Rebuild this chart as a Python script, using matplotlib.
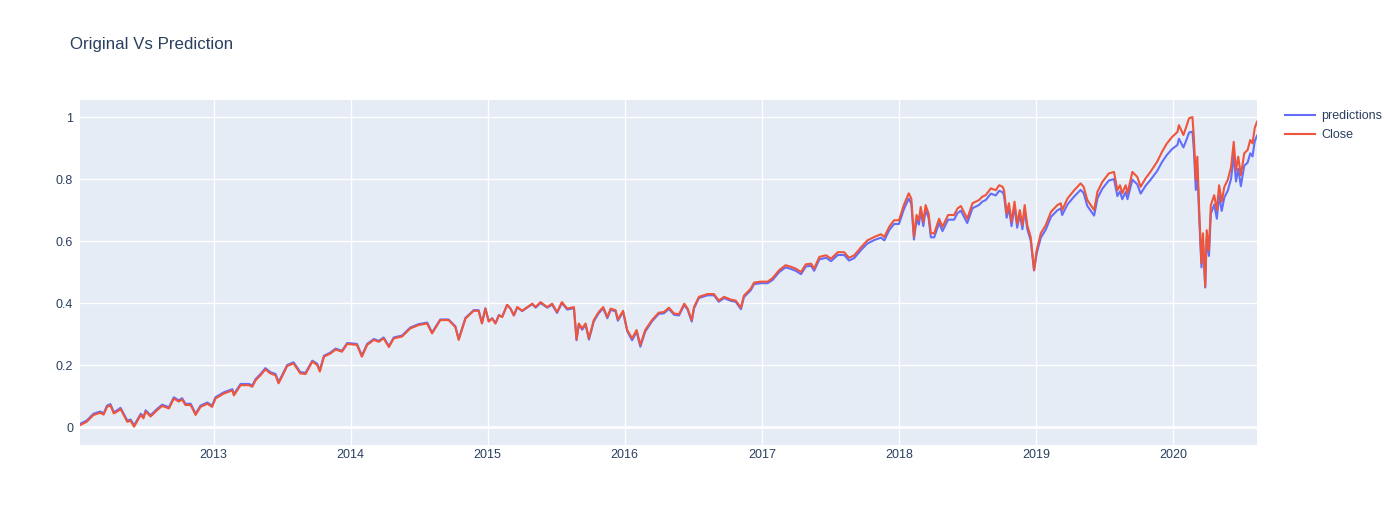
import pandas as pd
import matplotlib.pyplot as plt
import matplotlib.dates as mdates

plt.rcParams['font.family'] = ['Liberation Sans', 'DejaVu Sans']

# values (normalised close, model predictions)
dates = [
    "2012-01-11", "2012-01-29", "2012-02-16", "2012-03-05", "2012-03-14", "2012-03-23", "2012-04-01", "2012-04-10", "2012-04-19", "2012-04-28",
    "2012-05-16", "2012-05-25", "2012-06-03", "2012-06-21", "2012-06-28", "2012-07-04", "2012-07-17", "2012-08-04", "2012-08-17", "2012-09-04",
    "2012-09-17", "2012-09-30", "2012-10-09", "2012-10-18", "2012-11-01", "2012-11-14", "2012-11-27", "2012-12-15", "2012-12-28", "2013-01-06",
    "2013-01-28", "2013-02-20", "2013-02-24", "2013-03-14", "2013-04-05", "2013-04-14", "2013-04-23", "2013-05-06", "2013-05-19", "2013-06-01",
    "2013-06-15", "2013-06-23", "2013-07-02", "2013-07-16", "2013-08-02", "2013-08-20", "2013-09-03", "2013-09-21", "2013-10-04", "2013-10-11",
    "2013-10-22", "2013-11-08", "2013-11-22", "2013-12-09", "2013-12-23", "2014-01-18", "2014-01-31", "2014-02-14", "2014-03-04", "2014-03-17",
    "2014-03-30", "2014-04-13", "2014-04-26", "2014-05-18", "2014-06-09", "2014-07-01", "2014-07-24", "2014-08-06", "2014-08-28", "2014-09-19",
    "2014-10-07", "2014-10-16", "2014-11-03", "2014-11-25", "2014-12-08", "2014-12-17", "2014-12-26", "2015-01-04", "2015-01-13", "2015-01-22",
    "2015-01-31", "2015-02-09", "2015-02-22", "2015-03-03", "2015-03-12", "2015-03-21", "2015-04-03", "2015-04-17", "2015-04-30", "2015-05-09",
    "2015-05-22", "2015-06-09", "2015-06-22", "2015-07-05", "2015-07-18", "2015-08-01", "2015-08-19", "2015-08-26", "2015-09-01", "2015-09-10",
    "2015-09-19", "2015-09-28", "2015-10-11", "2015-10-24", "2015-11-05", "2015-11-16", "2015-11-25", "2015-12-08", "2015-12-14", "2015-12-28",
    "2016-01-08", "2016-01-21", "2016-02-02", "2016-02-12", "2016-02-25", "2016-03-14", "2016-04-01", "2016-04-15", "2016-04-28", "2016-05-12",
    "2016-05-25", "2016-06-08", "2016-06-17", "2016-06-28", "2016-07-04", "2016-07-17", "2016-08-09", "2016-08-26", "2016-09-08", "2016-09-22",
    "2016-10-10", "2016-10-23", "2016-11-06", "2016-11-14", "2016-12-02", "2016-12-11", "2016-12-29", "2017-01-16", "2017-01-29", "2017-02-16",
    "2017-03-05", "2017-03-19", "2017-04-01", "2017-04-15", "2017-04-28", "2017-05-12", "2017-05-20", "2017-06-03", "2017-06-21", "2017-07-04",
    "2017-07-22", "2017-08-08", "2017-08-21", "2017-09-04", "2017-09-22", "2017-10-09", "2017-10-27", "2017-11-14", "2017-11-23", "2017-12-06",
    "2017-12-19", "2018-01-01", "2018-01-14", "2018-01-27", "2018-02-03", "2018-02-10", "2018-02-17", "2018-02-23", "2018-02-28", "2018-03-07",
    "2018-03-13", "2018-03-21", "2018-03-27", "2018-04-05", "2018-04-18", "2018-04-27", "2018-05-12", "2018-05-28", "2018-06-06", "2018-06-15",
    "2018-07-02", "2018-07-16", "2018-08-02", "2018-08-11", "2018-08-20", "2018-09-03", "2018-09-16", "2018-09-25", "2018-10-04", "2018-10-08",
    "2018-10-15", "2018-10-21", "2018-10-28", "2018-11-05", "2018-11-12", "2018-11-19", "2018-11-26", "2018-12-02", "2018-12-09", "2018-12-18",
    "2018-12-27", "2019-01-03", "2019-01-14", "2019-01-27", "2019-02-10", "2019-02-27", "2019-03-08", "2019-03-12", "2019-03-26", "2019-04-13",
    "2019-04-30", "2019-05-08", "2019-05-18", "2019-06-05", "2019-06-14", "2019-06-27", "2019-07-14", "2019-07-28", "2019-08-06", "2019-08-13",
    "2019-08-19", "2019-08-28", "2019-09-02", "2019-09-15", "2019-09-28", "2019-10-07", "2019-10-20", "2019-11-02", "2019-11-20", "2019-12-03",
    "2019-12-16", "2019-12-30", "2020-01-13", "2020-01-17", "2020-01-29", "2020-02-04", "2020-02-13", "2020-02-22", "2020-02-26", "2020-03-02",
    "2020-03-06", "2020-03-11", "2020-03-17", "2020-03-21", "2020-03-27", "2020-03-31", "2020-04-06", "2020-04-11", "2020-04-20", "2020-04-27",
    "2020-05-03", "2020-05-10", "2020-05-17", "2020-05-26", "2020-06-04", "2020-06-11", "2020-06-17", "2020-06-23", "2020-06-30", "2020-07-09",
    "2020-07-18", "2020-07-25", "2020-07-31", "2020-08-06", "2020-08-12",
]

close = [
    0.006, 0.017, 0.039, 0.046, 0.040, 0.065, 0.070, 0.044, 0.050, 0.058,
    0.017, 0.020, 0.001, 0.039, 0.028, 0.050, 0.034, 0.055, 0.068, 0.060,
    0.092, 0.082, 0.089, 0.071, 0.071, 0.039, 0.065, 0.075, 0.065, 0.092,
    0.108, 0.118, 0.102, 0.135, 0.135, 0.130, 0.151, 0.167, 0.186, 0.173,
    0.167, 0.141, 0.162, 0.197, 0.205, 0.173, 0.171, 0.211, 0.200, 0.179,
    0.227, 0.237, 0.250, 0.243, 0.268, 0.265, 0.227, 0.265, 0.281, 0.275,
    0.286, 0.258, 0.286, 0.292, 0.318, 0.329, 0.334, 0.302, 0.345, 0.345,
    0.323, 0.281, 0.350, 0.375, 0.375, 0.334, 0.382, 0.340, 0.350, 0.334,
    0.360, 0.355, 0.394, 0.382, 0.360, 0.387, 0.375, 0.387, 0.398, 0.387,
    0.403, 0.387, 0.398, 0.371, 0.403, 0.382, 0.387, 0.283, 0.334, 0.318,
    0.334, 0.286, 0.345, 0.371, 0.387, 0.355, 0.382, 0.377, 0.347, 0.375,
    0.313, 0.286, 0.313, 0.265, 0.313, 0.345, 0.369, 0.371, 0.385, 0.366,
    0.364, 0.398, 0.382, 0.345, 0.387, 0.420, 0.429, 0.429, 0.408, 0.420,
    0.411, 0.408, 0.385, 0.424, 0.446, 0.466, 0.469, 0.469, 0.480, 0.506,
    0.522, 0.517, 0.511, 0.500, 0.525, 0.527, 0.511, 0.549, 0.554, 0.543,
    0.564, 0.564, 0.546, 0.554, 0.580, 0.602, 0.613, 0.622, 0.613, 0.646,
    0.667, 0.667, 0.716, 0.754, 0.737, 0.614, 0.684, 0.667, 0.710, 0.662,
    0.716, 0.689, 0.625, 0.625, 0.672, 0.646, 0.684, 0.684, 0.705, 0.713,
    0.672, 0.722, 0.732, 0.743, 0.748, 0.770, 0.764, 0.780, 0.775, 0.764,
    0.689, 0.722, 0.662, 0.727, 0.656, 0.700, 0.651, 0.716, 0.651, 0.613,
    0.506, 0.571, 0.625, 0.651, 0.694, 0.716, 0.722, 0.700, 0.737, 0.764,
    0.786, 0.775, 0.732, 0.700, 0.759, 0.791, 0.818, 0.823, 0.764, 0.780,
    0.754, 0.780, 0.754, 0.823, 0.807, 0.775, 0.802, 0.823, 0.856, 0.888,
    0.915, 0.936, 0.952, 0.974, 0.942, 0.963, 0.996, 1.000, 0.930, 0.797,
    0.872, 0.700, 0.528, 0.625, 0.453, 0.635, 0.571, 0.716, 0.748, 0.700,
    0.780, 0.727, 0.775, 0.797, 0.839, 0.920, 0.828, 0.872, 0.812, 0.883,
    0.894, 0.926, 0.915, 0.965, 0.985,
]

predictions = [
    0.010, 0.021, 0.043, 0.050, 0.044, 0.069, 0.074, 0.048, 0.054, 0.062,
    0.021, 0.024, 0.005, 0.043, 0.032, 0.054, 0.038, 0.059, 0.072, 0.064,
    0.096, 0.086, 0.093, 0.075, 0.075, 0.043, 0.069, 0.079, 0.069, 0.096,
    0.112, 0.122, 0.106, 0.139, 0.139, 0.134, 0.155, 0.171, 0.190, 0.177,
    0.171, 0.145, 0.166, 0.200, 0.209, 0.177, 0.175, 0.214, 0.204, 0.183,
    0.230, 0.240, 0.253, 0.246, 0.271, 0.268, 0.230, 0.268, 0.284, 0.278,
    0.289, 0.261, 0.289, 0.295, 0.321, 0.332, 0.337, 0.305, 0.347, 0.347,
    0.325, 0.284, 0.352, 0.377, 0.377, 0.336, 0.383, 0.342, 0.351, 0.335,
    0.361, 0.356, 0.394, 0.382, 0.360, 0.386, 0.374, 0.386, 0.396, 0.385,
    0.400, 0.385, 0.395, 0.368, 0.400, 0.379, 0.383, 0.280, 0.330, 0.314,
    0.330, 0.282, 0.341, 0.367, 0.383, 0.351, 0.378, 0.373, 0.343, 0.371,
    0.309, 0.280, 0.307, 0.259, 0.308, 0.341, 0.365, 0.367, 0.381, 0.362,
    0.360, 0.394, 0.378, 0.340, 0.383, 0.416, 0.425, 0.425, 0.404, 0.416,
    0.407, 0.404, 0.380, 0.419, 0.441, 0.461, 0.464, 0.464, 0.474, 0.500,
    0.515, 0.510, 0.504, 0.493, 0.518, 0.520, 0.504, 0.541, 0.546, 0.535,
    0.555, 0.555, 0.537, 0.545, 0.571, 0.592, 0.603, 0.611, 0.602, 0.635,
    0.655, 0.655, 0.702, 0.737, 0.720, 0.605, 0.670, 0.653, 0.695, 0.648,
    0.701, 0.675, 0.612, 0.612, 0.658, 0.632, 0.669, 0.669, 0.690, 0.698,
    0.658, 0.706, 0.716, 0.727, 0.732, 0.753, 0.747, 0.762, 0.758, 0.747,
    0.675, 0.707, 0.648, 0.712, 0.643, 0.686, 0.638, 0.701, 0.638, 0.602,
    0.505, 0.560, 0.611, 0.636, 0.678, 0.699, 0.705, 0.684, 0.718, 0.744,
    0.765, 0.755, 0.713, 0.682, 0.738, 0.769, 0.795, 0.800, 0.745, 0.760,
    0.735, 0.758, 0.735, 0.798, 0.783, 0.753, 0.778, 0.797, 0.826, 0.855,
    0.878, 0.897, 0.910, 0.930, 0.902, 0.920, 0.950, 0.953, 0.890, 0.765,
    0.835, 0.675, 0.515, 0.600, 0.450, 0.610, 0.552, 0.688, 0.718, 0.672,
    0.746, 0.697, 0.741, 0.762, 0.801, 0.878, 0.792, 0.833, 0.777, 0.843,
    0.853, 0.883, 0.873, 0.922, 0.940,
]

x = pd.to_datetime(dates)

fig = plt.figure(figsize=(13.96, 5.25), dpi=100)
ax = fig.add_axes([80 / 1396, 80 / 525, 1177 / 1396, 345 / 525])
ax.set_facecolor('#E5ECF6')

ax.plot(x, predictions, color='#636EFA', lw=1.5, label='predictions')
ax.plot(x, close, color='#EF553B', lw=1.5, label='Close')

ax.set_xlim(x[0], x[-1])
ax.set_ylim(-0.058, 1.055)
ax.set_yticks([0, 0.2, 0.4, 0.6, 0.8, 1.0])
ax.set_yticklabels(['0', '0.2', '0.4', '0.6', '0.8', '1'])
ax.xaxis.set_major_locator(mdates.YearLocator())
ax.xaxis.set_major_formatter(mdates.DateFormatter('%Y'))

ax.grid(True, color='white', lw=1)
ax.set_axisbelow(True)
ax.axhline(0, color='white', lw=2, zorder=1)
for s in ax.spines.values():
    s.set_visible(False)
ax.tick_params(axis='x', length=0, labelsize=9, labelcolor='#2a3f5f', pad=3)
ax.tick_params(axis='y', length=0, labelsize=9, labelcolor='#2a3f5f', pad=5)

fig.text(70 / 1396, 1 - 45 / 525, 'Original Vs Prediction', fontsize=12.2,
         color='#2a3f5f', va='center', ha='left')

leg = fig.legend(loc='upper left', bbox_to_anchor=(1274 / 1396, 1 - 99 / 525),
                 frameon=False, fontsize=9, handlelength=2.4, labelspacing=0.55,
                 handletextpad=0.45)
for t in leg.get_texts():
    t.set_color('#2a3f5f')

fig.savefig('out.png', dpi=100)
